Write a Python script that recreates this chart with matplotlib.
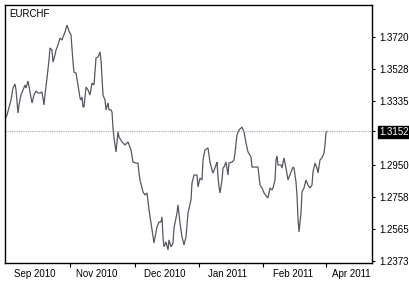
import matplotlib
matplotlib.use("Agg")
import matplotlib.pyplot as plt

symbol = "EURCHF"
bars = [1, 2, 6, 8, 10, 11, 13, 14, 16, 18, 20, 21, 23, 25, 27, 29, 31, 33, 35, 37, 39, 40,
        42, 44, 45, 47, 48, 50, 51, 53, 55, 57, 58, 60, 62, 64, 66, 68, 69, 71, 73, 75, 76, 77,
        78, 79, 81, 83, 85, 87, 89, 91, 93, 95, 96, 97, 98, 100, 101, 103, 104, 106, 107, 108,
        109, 111, 113, 114, 117, 120, 123, 126, 128, 131, 133, 134, 135, 138, 140, 142, 144,
        147, 149, 152, 154, 156, 157, 158, 159, 161, 163, 164, 166, 168, 169, 172, 173, 175,
        177, 179, 181, 183, 186, 187, 189, 192, 193, 195, 197, 198, 200, 203, 205, 207, 208,
        211, 212, 213, 214, 215, 217, 218, 219, 221, 223, 224, 227, 229, 230, 232, 234, 237,
        239, 241, 243, 246, 247, 250, 253, 255, 257, 259, 262, 263, 265, 267, 268, 270, 271,
        272, 273, 276, 277, 279, 281, 283, 286, 288, 289, 291, 292, 293, 294, 295, 296, 297,
        299, 301, 303, 305, 307, 308, 310, 312, 313, 315, 317, 319, 320, 321, 322]
close = [1.3238, 1.3250, 1.3341, 1.3413, 1.3437, 1.3401, 1.3262, 1.3311, 1.3371, 1.3401,
         1.3431, 1.3413, 1.3455, 1.3389, 1.3323, 1.3371, 1.3395, 1.3383, 1.3383, 1.3389,
         1.3311, 1.3371, 1.3473, 1.3582, 1.3654, 1.3642, 1.3569, 1.3612, 1.3642, 1.3672,
         1.3714, 1.3702, 1.3720, 1.3750, 1.3792, 1.3756, 1.3732, 1.3569, 1.3509, 1.3503,
         1.3431, 1.3353, 1.3341, 1.3359, 1.3299, 1.3299, 1.3419, 1.3401, 1.3371, 1.3443,
         1.3431, 1.3594, 1.3600, 1.3630, 1.3582, 1.3479, 1.3371, 1.3341, 1.3281, 1.3323,
         1.3281, 1.3281, 1.3268, 1.3172, 1.3112, 1.3028, 1.3148, 1.3118, 1.3088, 1.3070,
         1.3088, 1.3040, 1.2967, 1.2961, 1.2961, 1.2901, 1.2859, 1.2787, 1.2769, 1.2781,
         1.2679, 1.2558, 1.2480, 1.2576, 1.2606, 1.2606, 1.2636, 1.2516, 1.2456, 1.2486,
         1.2438, 1.2498, 1.2456, 1.2480, 1.2570, 1.2660, 1.2709, 1.2600, 1.2516, 1.2468,
         1.2516, 1.2660, 1.2739, 1.2841, 1.2889, 1.2889, 1.2817, 1.2871, 1.2859, 1.2979,
         1.3040, 1.3052, 1.2967, 1.2919, 1.2901, 1.2949, 1.2967, 1.2877, 1.2817, 1.2781,
         1.2859, 1.2931, 1.2937, 1.2967, 1.2889, 1.2961, 1.2967, 1.2979, 1.3022, 1.3130,
         1.3160, 1.3178, 1.3148, 1.3082, 1.3028, 1.2998, 1.2937, 1.2937, 1.2937, 1.2829,
         1.2811, 1.2781, 1.2757, 1.2751, 1.2811, 1.2799, 1.2811, 1.2859, 1.2979, 1.3004,
         1.2949, 1.2949, 1.2931, 1.2992, 1.2931, 1.2859, 1.2907, 1.2937, 1.2931, 1.2847,
         1.2769, 1.2630, 1.2546, 1.2600, 1.2660, 1.2787, 1.2811, 1.2859, 1.2829, 1.2811,
         1.2829, 1.2907, 1.2961, 1.2931, 1.2901, 1.2979, 1.2992, 1.3022, 1.3070, 1.3142,
         1.3152]

last_price = 1.3152
y_ticks = [1.2373, 1.2565, 1.2758, 1.2950, 1.3152, 1.3335, 1.3528, 1.3720]
x_separators = [65, 130, 194, 258, 321]
x_label_pos = [30, 92, 160, 223, 288, 346]
x_labels = ["Sep 2010", "Nov 2010", "Dec 2010", "Jan 2011", "Feb 2011", "Apr 2011"]

W, H = 410, 283
fig = plt.figure(figsize=(W / 100, H / 100), dpi=100)
ax = fig.add_axes([5 / W, (H - 263) / H, (372 - 5) / W, (263 - 5) / H])

font = ["Liberation Sans", "DejaVu Sans"]
fs = 7.0

ax.plot(bars, close, color="#5a5560", lw=0.9, solid_joinstyle="miter")
ax.axhline(last_price, color="#b49cb4", lw=0.8, ls=(0, (1, 1)))

ax.set_xlim(0, 367)
ax.set_ylim(1.2359, 1.3913)

for s in ax.spines.values():
    s.set_color("black")
    s.set_linewidth(1.0)

ax.yaxis.tick_right()
ax.set_yticks(y_ticks)
ax.set_yticklabels([f"{v:.4f}" for v in y_ticks], family=font, fontsize=fs)
ax.tick_params(axis="y", direction="out", length=2.5, width=0.8, pad=2.5, colors="black")
for lbl, v in zip(ax.get_yticklabels(), y_ticks):
    if v == last_price:
        lbl.set_color("white")
        lbl.set_bbox(dict(facecolor="black", edgecolor="black", pad=0.6))

ax.set_xticks(x_separators)
ax.set_xticklabels([])
ax.tick_params(axis="x", which="major", direction="out", length=3, width=0.8)
ax.set_xticks(x_label_pos, minor=True)
ax.set_xticklabels(x_labels, minor=True, family=font, fontsize=fs)
ax.tick_params(axis="x", which="minor", length=0, pad=4)

ax.text(4 / 367, 0.985, symbol, transform=ax.transAxes, ha="left", va="top",
        family=font, fontsize=fs, color="black")

fig.savefig("out.png", dpi=100)
